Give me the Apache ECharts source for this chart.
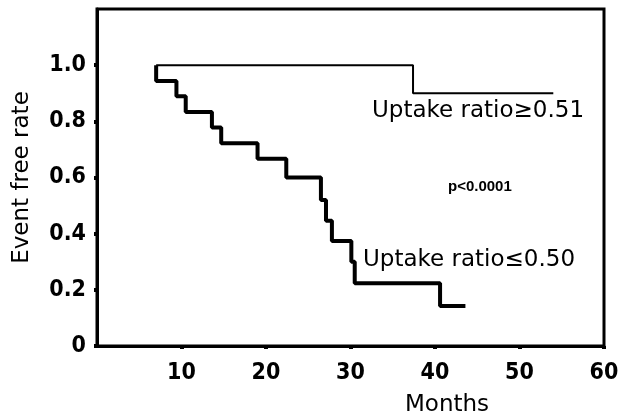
<!DOCTYPE html>
<html>
<head>
<meta charset="utf-8">
<script src="https://cdn.jsdelivr.net/npm/echarts@6/dist/echarts.min.js"></script>
<style>
  html, body { margin: 0; padding: 0; background: #fff; }
  #chart { width: 626px; height: 420px; }
</style>
</head>
<body>
<div id="chart"></div>
<script>
// Kaplan-Meier curves, values
const lowTimes = [7, 7, 9.4, 10.5, 13.6, 14.7, 19.0, 22.4, 26.5, 27.1, 27.8, 30.1, 30.5, 40.6, 43.6]
const lowRates = [1.0, 0.944, 0.889, 0.833, 0.778, 0.722, 0.667, 0.6, 0.52, 0.446, 0.374, 0.3, 0.223, 0.142, 0.142]
const highTimes = [7, 37.4, 54]
const highRates = [1.0, 0.9, 0.9]

const xTicks = [10, 20, 30, 40, 50, 60]
const yTicks = [0, 0.2, 0.4, 0.6, 0.8, 1.0]

const pairs = (xs, ys) => xs.map((x, i) => [x, ys[i]])

const tickFont = { fontFamily: 'DejaVu Sans Condensed', fontWeight: 'bold', fontSize: 23, color: '#000' }

const chart = echarts.init(document.getElementById('chart'))
chart.setOption({
  animation: false,
  grid: {
    left: 97, right: 22, top: 9, bottom: 74,
    show: true, borderColor: '#000', borderWidth: 3,
  },
  xAxis: {
    type: 'value', min: 0, max: 60, interval: 10,
    splitLine: { show: false },
    axisLine: { lineStyle: { color: '#000', width: 3 } },
    axisTick: { show: true, customValues: xTicks, length: 3, lineStyle: { color: '#000', width: 4 } },
    axisLabel: { customValues: xTicks, margin: 16, ...tickFont },
  },
  yAxis: {
    type: 'value', min: 0, max: 1.2, interval: 0.2,
    name: 'Event free rate', nameLocation: 'middle', nameGap: 63,
    nameTextStyle: { fontFamily: 'DejaVu Sans', fontSize: 23, color: '#000' },
    splitLine: { show: false },
    axisLine: { lineStyle: { color: '#000', width: 3 } },
    axisTick: { show: true, customValues: yTicks, length: 3, lineStyle: { color: '#000', width: 4 } },
    axisLabel: {
      customValues: yTicks, margin: 11, ...tickFont,
      formatter: (v) => (v === 0 ? '0' : v.toFixed(1)),
    },
  },
  series: [
    {
      name: 'Uptake ratio≤0.50', type: 'line', step: 'end', symbol: 'none',
      data: pairs(lowTimes, lowRates),
      lineStyle: { color: '#000', width: 4 },
    },
    {
      name: 'Uptake ratio≥0.51', type: 'line', step: 'end', symbol: 'none',
      data: pairs(highTimes, highRates),
      lineStyle: { color: '#000', width: 2 },
    },
  ],
  graphic: [
    { type: 'text', left: 372, top: 100, style: { text: 'Uptake ratio≥0.51', font: '23px "DejaVu Sans"', fill: '#000' } },
    { type: 'text', left: 363, top: 249, style: { text: 'Uptake ratio≤0.50', font: '23px "DejaVu Sans"', fill: '#000' } },
    { type: 'text', left: 448, top: 179, style: { text: 'p<0.0001', font: 'bold 15px "Liberation Sans"', fill: '#000' } },
    { type: 'text', left: 405, top: 394, style: { text: 'Months', font: '23px "DejaVu Sans"', fill: '#000' } },
  ],
})
</script>
</body>
</html>
